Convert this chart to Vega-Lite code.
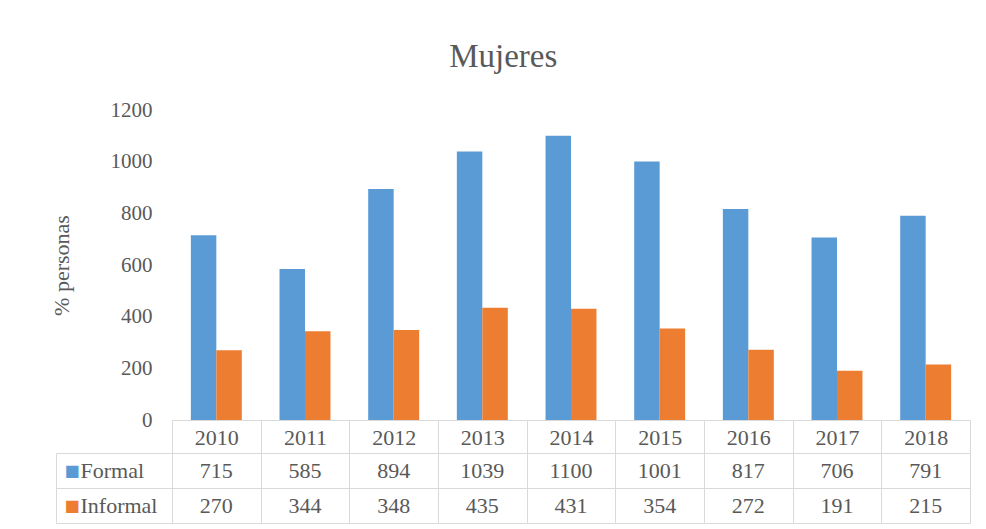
{
  "$schema": "https://vega.github.io/schema/vega-lite/v6.json",
  "background": "white",
  "padding": {"left": 50, "top": 41, "right": 10, "bottom": 5},
  "datasets": {
    "rows": [
      {"year": "2010", "series": "Formal", "value": 715},
      {"year": "2011", "series": "Formal", "value": 585},
      {"year": "2012", "series": "Formal", "value": 894},
      {"year": "2013", "series": "Formal", "value": 1039},
      {"year": "2014", "series": "Formal", "value": 1100},
      {"year": "2015", "series": "Formal", "value": 1001},
      {"year": "2016", "series": "Formal", "value": 817},
      {"year": "2017", "series": "Formal", "value": 706},
      {"year": "2018", "series": "Formal", "value": 791},
      {"year": "2010", "series": "Informal", "value": 270},
      {"year": "2011", "series": "Informal", "value": 344},
      {"year": "2012", "series": "Informal", "value": 348},
      {"year": "2013", "series": "Informal", "value": 435},
      {"year": "2014", "series": "Informal", "value": 431},
      {"year": "2015", "series": "Informal", "value": 354},
      {"year": "2016", "series": "Informal", "value": 272},
      {"year": "2017", "series": "Informal", "value": 191},
      {"year": "2018", "series": "Informal", "value": 215}
    ]
  },
  "title": {
    "text": "Mujeres",
    "font": "Times New Roman, Liberation Serif, DejaVu Serif, serif",
    "fontSize": 33,
    "fontWeight": "normal",
    "color": "#595959",
    "anchor": "middle",
    "dx": -7,
    "offset": 25
  },
  "config": {
    "font": "Times New Roman, Liberation Serif, DejaVu Serif, serif",
    "axis": {
      "labelFont": "Times New Roman, Liberation Serif, DejaVu Serif, serif",
      "titleFont": "Times New Roman, Liberation Serif, DejaVu Serif, serif",
      "labelColor": "#595959",
      "titleColor": "#595959"
    }
  },
  "bounds": "flush",
  "spacing": 33,
  "vconcat": [
    {
      "width": 798,
      "height": 310,
      "view": {"stroke": null},
      "data": {"name": "rows"},
      "mark": {"type": "bar"},
      "encoding": {
        "x": {
          "field": "year",
          "type": "nominal",
          "scale": {"paddingInner": 0, "paddingOuter": 0},
          "axis": {
            "title": null,
            "labelAngle": 0,
            "labelFontSize": 22,
            "labelBaseline": "middle",
            "labelPadding": -16,
            "tickBand": "extent",
            "tickSize": 33,
            "tickColor": "#d9d9d9",
            "domainColor": "#d9d9d9",
            "grid": false
          }
        },
        "xOffset": {
          "field": "series",
          "type": "nominal",
          "scale": {"paddingInner": 0, "paddingOuter": 0.74}
        },
        "y": {
          "field": "value",
          "type": "quantitative",
          "scale": {"domain": [0, 1200]},
          "axis": {
            "values": [0, 200, 400, 600, 800, 1000, 1200],
            "format": "d",
            "title": "% personas",
            "titleFontSize": 22,
            "titleFontWeight": "normal",
            "titlePadding": 37,
            "labelFontSize": 21,
            "labelPadding": 20,
            "grid": false,
            "domain": false,
            "ticks": false
          }
        },
        "color": {
          "field": "series",
          "type": "nominal",
          "scale": {"domain": ["Formal", "Informal"], "range": ["#5B9BD5", "#ED7D31"]},
          "legend": null
        }
      }
    },
    {
      "width": 798,
      "height": 70,
      "view": {"stroke": "#d9d9d9"},
      "data": {"name": "rows"},
      "resolve": {"axis": {"y": "independent"}},
      "layer": [
        {
          "mark": {"type": "text", "fontSize": 22, "color": "#595959", "font": "Times New Roman, Liberation Serif, DejaVu Serif, serif"},
          "encoding": {
            "x": {
              "field": "year",
              "type": "nominal",
              "scale": {"paddingInner": 0, "paddingOuter": 0},
              "axis": {
                "title": null,
                "labels": false,
                "ticks": false,
                "domain": false,
                "grid": true,
                "gridColor": "#d9d9d9",
                "gridOpacity": 1,
                "tickBand": "extent"
              }
            },
            "y": {
              "field": "series",
              "type": "nominal",
              "scale": {"domain": ["Formal", "Informal"], "paddingInner": 0, "paddingOuter": 0},
              "axis": {
                "orient": "left",
                "title": null,
                "domain": false,
                "grid": true,
                "gridColor": "#d9d9d9",
                "gridOpacity": 1,
                "tickBand": "extent",
                "ticks": true,
                "tickSize": 116,
                "tickColor": "#d9d9d9",
                "labelAlign": "left",
                "labelPadding": -24,
                "labelFontSize": 22
              }
            },
            "text": {"field": "value", "type": "quantitative"}
          }
        },
        {
          "mark": {"type": "rect", "opacity": 0},
          "encoding": {
            "x": {"field": "year", "type": "nominal"},
            "y": {
              "field": "series",
              "type": "nominal",
              "axis": {
                "orient": "left",
                "offset": 116,
                "title": null,
                "domain": true,
                "domainColor": "#d9d9d9",
                "ticks": false,
                "grid": false,
                "labelExpr": "'■'",
                "labelFont": "DejaVu Sans",
                "labelFontSize": 16,
                "labelAlign": "left",
                "labelPadding": -8,
                "labelColor": {"condition": {"test": "datum.value === 'Formal'", "value": "#5B9BD5"}, "value": "#ED7D31"}
              }
            }
          }
        }
      ]
    }
  ]
}
